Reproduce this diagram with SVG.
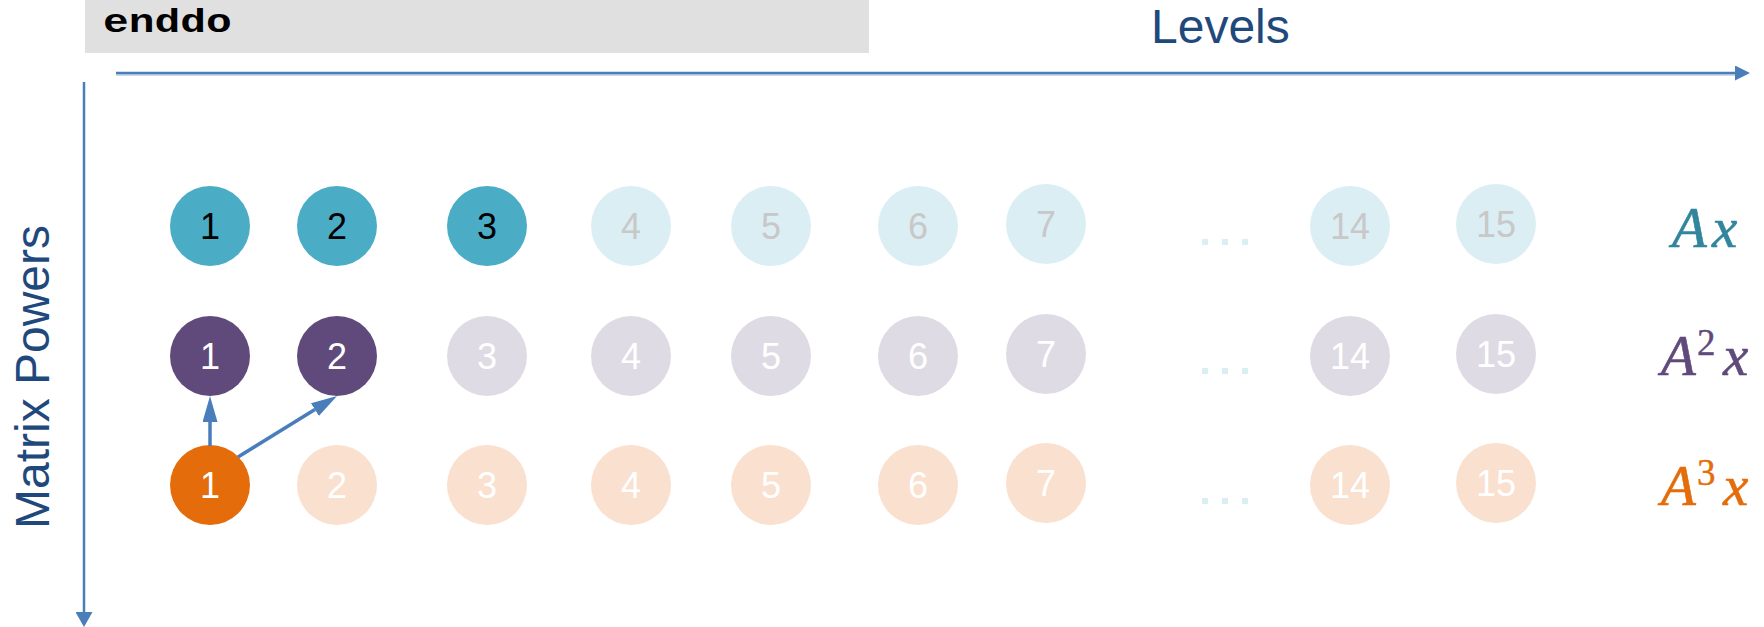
<svg xmlns="http://www.w3.org/2000/svg" width="1764" height="627" viewBox="0 0 1764 627">
<style>
.num{font-family:"Liberation Sans",Arial,sans-serif;font-size:36px;text-anchor:middle}
.axis{stroke:#4a7ebb;stroke-width:2.5;fill:none}
.conn{stroke:#4a7ebb;stroke-width:3.5;fill:none}
.title{font-family:"Liberation Sans",Arial,sans-serif;font-size:48px;fill:#1f497d}
.lab{font-family:"Liberation Serif","Times New Roman",serif;font-style:italic;font-size:57px;stroke-width:0.6}
.sup{font-family:"Liberation Serif","Times New Roman",serif;font-size:37px;stroke-width:0.4}
.code{font-family:"Courier New","Liberation Mono",monospace;font-weight:bold;font-size:33px;fill:#000}
.t1{fill:#4bacc6}.t0{fill:#dbeef4}
.p1{fill:#604a7b}.p0{fill:#dfdbe5}
.o1{fill:#e46c0a}.o0{fill:#fae0cf}
.tk{fill:#000000}.tg{fill:#c8c8c8}.tw{fill:#ffffff}
.dot{fill:#dbeef4}
</style>
<defs>
<marker id="ahAxisH" viewBox="0 0 15 15" refX="0" refY="7.5" markerWidth="15" markerHeight="15" markerUnits="userSpaceOnUse" orient="auto"><path d="M0,0 L15,7.5 L0,15 z" fill="#4a7ebb"/></marker>
<marker id="ahAxisV" viewBox="0 0 15 17" refX="0" refY="8.5" markerWidth="15" markerHeight="17" markerUnits="userSpaceOnUse" orient="auto"><path d="M0,0 L15,8.5 L0,17 z" fill="#4a7ebb"/></marker>
<marker id="ahNode" viewBox="0 0 26 15" refX="0" refY="7.5" markerWidth="26" markerHeight="15" markerUnits="userSpaceOnUse" orient="auto"><path d="M0,0 L26,7.5 L0,15 z" fill="#4a7ebb"/></marker>
</defs>
<rect width="1764" height="627" fill="#ffffff"/>
<g id="code-box">
<rect x="85" y="0" width="784" height="53" fill="#e0e0e0"/>
<text class="code" transform="translate(103,32) scale(1.3,1)" x="0" y="0">enddo</text>
</g>
<g id="axes">
<line x1="116" y1="75" x2="1735" y2="75" stroke="#b9cde5" stroke-width="1.5"/>
<line class="axis" x1="116" y1="73" x2="1735" y2="73" marker-end="url(#ahAxisH)"/>
<line class="axis" x1="84" y1="82" x2="84" y2="612" marker-end="url(#ahAxisV)"/>
<text class="title" x="1151" y="43">Levels</text>
<text class="title" transform="translate(49,377) rotate(-90)" text-anchor="middle">Matrix Powers</text>
</g>
<g id="row1">
<g id="r1c1"><circle class="t1" cx="210" cy="226" r="40"/><text class="num tk" x="210" y="239">1</text></g>
<g id="r1c2"><circle class="t1" cx="337" cy="226" r="40"/><text class="num tk" x="337" y="239">2</text></g>
<g id="r1c3"><circle class="t1" cx="487" cy="226" r="40"/><text class="num tk" x="487" y="239">3</text></g>
<g id="r1c4"><circle class="t0" cx="631" cy="226" r="40"/><text class="num tg" x="631" y="239">4</text></g>
<g id="r1c5"><circle class="t0" cx="771" cy="226" r="40"/><text class="num tg" x="771" y="239">5</text></g>
<g id="r1c6"><circle class="t0" cx="918" cy="226" r="40"/><text class="num tg" x="918" y="239">6</text></g>
<g id="r1c7"><circle class="t0" cx="1046" cy="224" r="40"/><text class="num tg" x="1046" y="237">7</text></g>
<g id="r1dots"><rect class="dot" x="1202" y="239" width="6" height="6"/><rect class="dot" x="1222" y="239" width="6" height="6"/><rect class="dot" x="1242" y="239" width="6" height="6"/></g>
<g id="r1c14"><circle class="t0" cx="1350" cy="226" r="40"/><text class="num tg" x="1350" y="239">14</text></g>
<g id="r1c15"><circle class="t0" cx="1496" cy="224" r="40"/><text class="num tg" x="1496" y="237">15</text></g>
<g id="r1label" fill="#31859c" stroke="#31859c"><text class="lab" x="1672" y="247">A</text><text class="lab" x="1712" y="247">x</text></g>
</g>
<g id="row2">
<g id="r2c1"><circle class="p1" cx="210" cy="356" r="40"/><text class="num tw" x="210" y="369">1</text></g>
<g id="r2c2"><circle class="p1" cx="337" cy="356" r="40"/><text class="num tw" x="337" y="369">2</text></g>
<g id="r2c3"><circle class="p0" cx="487" cy="356" r="40"/><text class="num tw" x="487" y="369">3</text></g>
<g id="r2c4"><circle class="p0" cx="631" cy="356" r="40"/><text class="num tw" x="631" y="369">4</text></g>
<g id="r2c5"><circle class="p0" cx="771" cy="356" r="40"/><text class="num tw" x="771" y="369">5</text></g>
<g id="r2c6"><circle class="p0" cx="918" cy="356" r="40"/><text class="num tw" x="918" y="369">6</text></g>
<g id="r2c7"><circle class="p0" cx="1046" cy="354" r="40"/><text class="num tw" x="1046" y="367">7</text></g>
<g id="r2dots"><rect class="dot" x="1202" y="368" width="6" height="6"/><rect class="dot" x="1222" y="368" width="6" height="6"/><rect class="dot" x="1242" y="368" width="6" height="6"/></g>
<g id="r2c14"><circle class="p0" cx="1350" cy="356" r="40"/><text class="num tw" x="1350" y="369">14</text></g>
<g id="r2c15"><circle class="p0" cx="1496" cy="354" r="40"/><text class="num tw" x="1496" y="367">15</text></g>
<g id="r2label" fill="#604a7b" stroke="#604a7b"><text class="lab" x="1661" y="375">A</text><text class="sup" x="1697" y="355">2</text><text class="lab" x="1723" y="375">x</text></g>
</g>
<g id="row3">
<g id="r3c1"><circle class="o1" cx="210" cy="485" r="40"/><text class="num tw" x="210" y="498">1</text></g>
<g id="r3c2"><circle class="o0" cx="337" cy="485" r="40"/><text class="num tw" x="337" y="498">2</text></g>
<g id="r3c3"><circle class="o0" cx="487" cy="485" r="40"/><text class="num tw" x="487" y="498">3</text></g>
<g id="r3c4"><circle class="o0" cx="631" cy="485" r="40"/><text class="num tw" x="631" y="498">4</text></g>
<g id="r3c5"><circle class="o0" cx="771" cy="485" r="40"/><text class="num tw" x="771" y="498">5</text></g>
<g id="r3c6"><circle class="o0" cx="918" cy="485" r="40"/><text class="num tw" x="918" y="498">6</text></g>
<g id="r3c7"><circle class="o0" cx="1046" cy="483" r="40"/><text class="num tw" x="1046" y="496">7</text></g>
<g id="r3dots"><rect class="dot" x="1202" y="498" width="6" height="6"/><rect class="dot" x="1222" y="498" width="6" height="6"/><rect class="dot" x="1242" y="498" width="6" height="6"/></g>
<g id="r3c14"><circle class="o0" cx="1350" cy="485" r="40"/><text class="num tw" x="1350" y="498">14</text></g>
<g id="r3c15"><circle class="o0" cx="1496" cy="483" r="40"/><text class="num tw" x="1496" y="496">15</text></g>
<g id="r3label" fill="#e46c0a" stroke="#e46c0a"><text class="lab" x="1661" y="505">A</text><text class="sup" x="1697" y="485">3</text><text class="lab" x="1723" y="505">x</text></g>
</g>
<g id="connectors">
<line class="conn" x1="210" y1="446" x2="210" y2="422" marker-end="url(#ahNode)"/>
<line class="conn" x1="238" y1="457" x2="314.9" y2="409.6" marker-end="url(#ahNode)"/>
</g>
</svg>
